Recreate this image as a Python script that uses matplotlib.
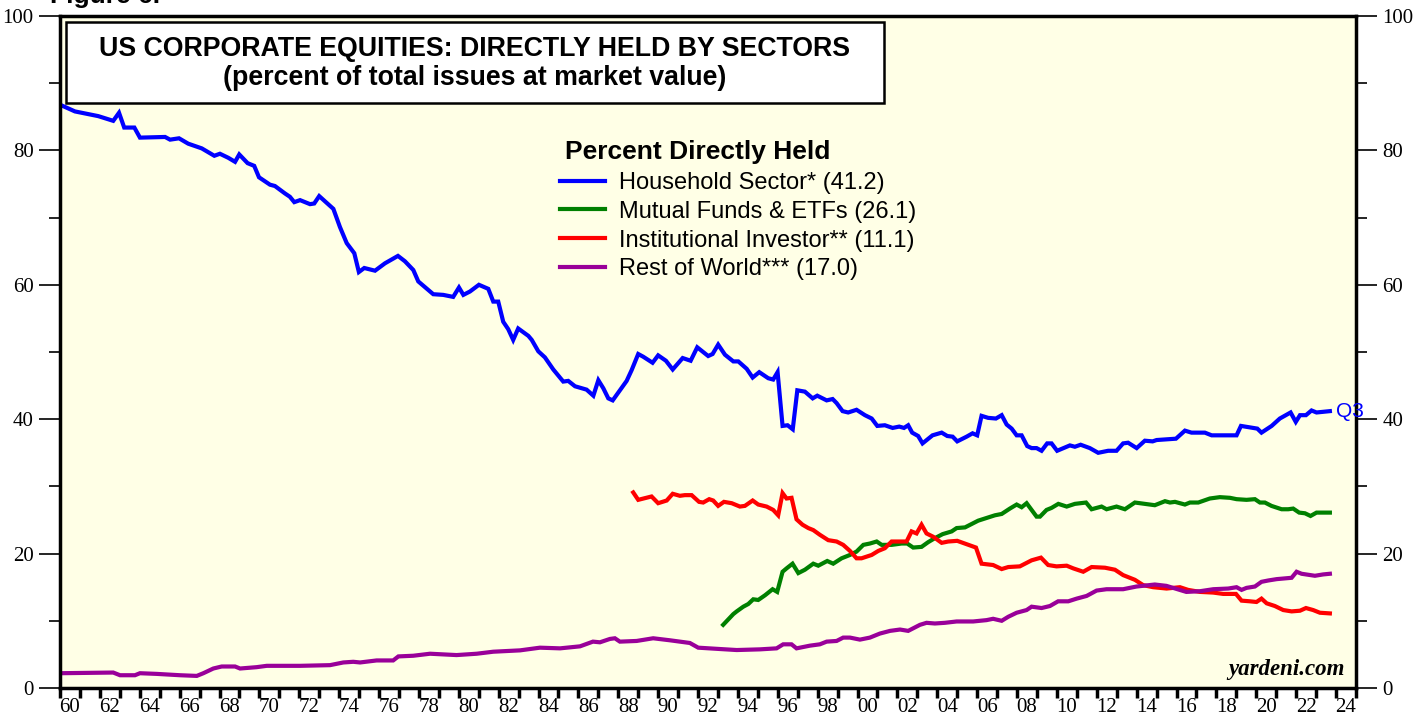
import matplotlib
matplotlib.use('Agg')
import matplotlib.pyplot as plt
from matplotlib.patches import Rectangle
import numpy as np

# ---- data (percent of total issues at market value) ----
house_x = [1959.50, 1960.25, 1961.42, 1962.17, 1962.46, 1962.72, 1963.23, 1963.51, 1964.77, 1965.02,
           1965.47, 1965.93, 1966.61, 1967.24, 1967.52, 1967.94, 1968.28, 1968.49, 1968.91, 1969.24,
           1969.48, 1970.03, 1970.28, 1970.78, 1971.03, 1971.25, 1971.54, 1972.04, 1972.25, 1972.50,
           1973.21, 1973.54, 1973.88, 1974.26, 1974.49, 1974.76, 1975.30, 1975.80, 1976.15, 1976.45,
           1976.80, 1977.22, 1977.47, 1978.22, 1978.72, 1979.22, 1979.51, 1979.73, 1980.06, 1980.51,
           1980.98, 1981.23, 1981.48, 1981.73, 1981.98, 1982.23, 1982.48, 1982.99, 1983.16, 1983.49,
           1983.82, 1984.24, 1984.74, 1984.99, 1985.33, 1985.91, 1986.25, 1986.50, 1986.75, 1987.00,
           1987.22, 1987.58, 1987.92, 1988.17, 1988.50, 1988.75, 1989.22, 1989.50, 1989.89, 1990.23,
           1990.73, 1991.13, 1991.46, 1992.01, 1992.23, 1992.51, 1992.85, 1993.27, 1993.52, 1993.94,
           1994.24, 1994.57, 1995.02, 1995.27, 1995.49, 1995.74, 1995.99, 1996.25, 1996.48, 1996.86,
           1997.25, 1997.48, 1997.95, 1998.25, 1998.45, 1998.75, 1999.03, 1999.45, 1999.87, 2000.21,
           2000.49, 2000.87, 2001.26, 2001.59, 2001.83, 2002.04, 2002.24, 2002.54, 2002.76, 2003.26,
           2003.72, 2004.00, 2004.27, 2004.50, 2004.97, 2005.27, 2005.50, 2005.72, 2006.05, 2006.44,
           2006.73, 2006.98, 2007.23, 2007.48, 2007.73, 2008.01, 2008.23, 2008.48, 2008.73, 2009.01,
           2009.23, 2009.51, 2010.15, 2010.40, 2010.69, 2011.15, 2011.57, 2012.07, 2012.49, 2012.82,
           2013.07, 2013.50, 2013.91, 2014.30, 2014.50, 2015.47, 2015.92, 2016.25, 2016.92, 2017.26,
           2017.67, 2018.51, 2018.73, 2019.34, 2019.55, 2019.76, 2020.27, 2020.68, 2021.22, 2021.48,
           2021.69, 2021.99, 2022.27, 2022.52, 2023.19]
house_y = [86.8, 85.8, 85.1, 84.4, 85.6, 83.4, 83.4, 81.9, 82.0, 81.6,
           81.8, 81.0, 80.3, 79.2, 79.5, 78.9, 78.3, 79.4, 78.1, 77.7,
           76.0, 74.9, 74.7, 73.6, 73.1, 72.3, 72.6, 72.0, 72.1, 73.2,
           71.3, 68.6, 66.2, 64.7, 61.9, 62.5, 62.1, 63.2, 63.8, 64.3,
           63.5, 62.2, 60.5, 58.6, 58.5, 58.2, 59.6, 58.5, 59.0, 60.0,
           59.4, 57.5, 57.5, 54.5, 53.4, 51.8, 53.5, 52.4, 51.8, 50.1,
           49.2, 47.4, 45.6, 45.7, 44.9, 44.4, 43.5, 45.8, 44.6, 43.1,
           42.8, 44.3, 45.7, 47.3, 49.7, 49.3, 48.4, 49.5, 48.7, 47.4,
           49.1, 48.7, 50.7, 49.4, 49.7, 51.1, 49.6, 48.6, 48.6, 47.5,
           46.2, 47.0, 46.1, 45.9, 47.0, 39.0, 39.1, 38.5, 44.3, 44.1,
           43.1, 43.5, 42.8, 43.0, 42.4, 41.2, 41.0, 41.4, 40.6, 40.1,
           39.0, 39.1, 38.7, 38.9, 38.7, 39.1, 38.0, 37.5, 36.4, 37.6,
           38.0, 37.5, 37.4, 36.7, 37.4, 37.9, 37.6, 40.5, 40.2, 40.1,
           40.6, 39.2, 38.6, 37.6, 37.6, 36.0, 35.7, 35.7, 35.3, 36.4,
           36.4, 35.3, 36.1, 35.9, 36.2, 35.7, 35.0, 35.3, 35.3, 36.4,
           36.5, 35.7, 36.8, 36.7, 36.9, 37.1, 38.3, 38.0, 38.0, 37.6,
           37.6, 37.6, 39.0, 38.7, 38.6, 38.0, 39.0, 40.1, 41.0, 39.6,
           40.6, 40.6, 41.3, 41.0, 41.2]

funds_x = [1992.76, 1993.27, 1993.44, 1993.77, 1994.02, 1994.27, 1994.52, 1994.86, 1995.24, 1995.47,
           1995.74, 1995.94, 1996.24, 1996.53, 1996.86, 1997.28, 1997.53, 1997.98, 1998.28, 1998.70,
           1999.12, 1999.45, 1999.79, 2000.12, 2000.46, 2000.71, 2001.21, 2001.71, 2001.99, 2002.29,
           2002.71, 2003.04, 2003.38, 2003.77, 2004.22, 2004.47, 2004.89, 2005.22, 2005.55, 2005.97,
           2006.39, 2006.73, 2007.14, 2007.48, 2007.73, 2007.98, 2008.23, 2008.48, 2008.65, 2008.98,
           2009.23, 2009.57, 2009.99, 2010.40, 2010.96, 2011.24, 2011.74, 2011.99, 2012.49, 2012.91,
           2013.41, 2013.66, 2014.41, 2014.92, 2015.17, 2015.42, 2015.92, 2016.17, 2016.59, 2017.17,
           2017.67, 2018.18, 2018.51, 2019.01, 2019.43, 2019.68, 2019.93, 2020.26, 2020.77, 2021.10,
           2021.35, 2021.65, 2021.94, 2022.22, 2022.52, 2022.85, 2023.19]
funds_y = [9.4, 11.0, 11.4, 12.1, 12.5, 13.2, 13.1, 13.8, 14.7, 14.3,
           17.3, 17.8, 18.5, 17.1, 17.6, 18.5, 18.2, 18.9, 18.5, 19.3,
           19.8, 20.3, 21.3, 21.5, 21.8, 21.3, 21.3, 21.5, 21.5, 20.9,
           21.0, 21.7, 22.3, 22.9, 23.3, 23.8, 23.9, 24.4, 24.9, 25.3,
           25.7, 25.9, 26.7, 27.3, 26.9, 27.5, 26.5, 25.5, 25.5, 26.5,
           26.8, 27.4, 27.0, 27.4, 27.6, 26.6, 27.0, 26.6, 27.0, 26.6,
           27.6, 27.5, 27.2, 27.8, 27.6, 27.7, 27.3, 27.6, 27.6, 28.2,
           28.4, 28.3, 28.1, 28.0, 28.1, 27.6, 27.6, 27.1, 26.6, 26.6,
           26.7, 26.1, 26.0, 25.6, 26.1, 26.1, 26.1]

inst_x = [1988.25, 1988.50, 1989.17, 1989.50, 1989.93, 1990.23, 1990.59, 1990.84, 1991.18, 1991.55,
          1991.76, 1992.06, 1992.26, 1992.51, 1992.80, 1993.19, 1993.60, 1993.85, 1994.24, 1994.52,
          1994.94, 1995.27, 1995.52, 1995.74, 1995.94, 1996.19, 1996.44, 1996.74, 1997.03, 1997.28,
          1997.61, 1998.03, 1998.45, 1998.78, 1999.12, 1999.45, 1999.70, 2000.21, 2000.54, 2000.87,
          2001.21, 2001.54, 2001.96, 2002.21, 2002.46, 2002.71, 2002.96, 2003.30, 2003.72, 2004.05,
          2004.50, 2004.97, 2005.44, 2005.72, 2006.30, 2006.73, 2007.06, 2007.64, 2008.23, 2008.70,
          2009.06, 2009.48, 2009.99, 2010.32, 2010.82, 2011.24, 2011.91, 2012.41, 2012.82, 2013.41,
          2013.83, 2014.33, 2015.00, 2015.67, 2016.08, 2016.67, 2017.34, 2017.84, 2018.48, 2018.76,
          2019.18, 2019.51, 2019.76, 2020.02, 2020.43, 2020.85, 2021.27, 2021.69, 2021.99, 2022.35,
          2022.69, 2023.19]
inst_y = [29.1, 28.0, 28.5, 27.5, 27.9, 28.9, 28.6, 28.7, 28.7, 27.7,
          27.6, 28.1, 27.9, 27.1, 27.7, 27.5, 27.0, 27.1, 27.9, 27.3,
          27.0, 26.5, 25.7, 29.0, 28.2, 28.3, 25.1, 24.3, 23.8, 23.5,
          22.8, 22.0, 21.8, 21.3, 20.4, 19.3, 19.3, 19.8, 20.4, 20.8,
          21.8, 21.8, 21.8, 23.3, 23.0, 24.3, 23.0, 22.5, 21.6, 21.8,
          21.9, 21.4, 20.9, 18.5, 18.3, 17.7, 18.0, 18.1, 19.0, 19.4,
          18.3, 18.1, 18.2, 17.8, 17.3, 18.0, 17.9, 17.6, 16.8, 16.1,
          15.3, 15.0, 14.8, 15.0, 14.6, 14.3, 14.2, 14.0, 14.0, 13.0,
          12.9, 12.8, 13.3, 12.6, 12.2, 11.6, 11.4, 11.5, 11.9, 11.6,
          11.2, 11.1]

row_x = [1959.50, 1962.17, 1962.51, 1963.26, 1963.51, 1964.35, 1965.52, 1966.36, 1966.69, 1967.19,
         1967.61, 1968.28, 1968.53, 1969.36, 1969.87, 1971.54, 1973.04, 1973.71, 1974.21, 1974.55,
         1975.38, 1976.21, 1976.47, 1977.22, 1978.06, 1979.39, 1980.40, 1981.23, 1982.57, 1983.57,
         1984.58, 1985.58, 1986.23, 1986.58, 1987.08, 1987.33, 1987.58, 1988.42, 1989.25, 1990.09,
         1990.59, 1991.09, 1991.51, 1992.60, 1993.44, 1994.60, 1995.44, 1995.77, 1996.19, 1996.44,
         1997.11, 1997.61, 1997.95, 1998.45, 1998.78, 1999.12, 1999.62, 2000.12, 2000.62, 2001.13,
         2001.63, 2002.04, 2002.63, 2002.96, 2003.38, 2003.88, 2004.47, 2005.30, 2005.97, 2006.30,
         2006.73, 2007.06, 2007.48, 2007.98, 2008.23, 2008.73, 2009.15, 2009.56, 2010.07, 2010.49,
         2010.99, 2011.49, 2011.99, 2012.82, 2013.49, 2014.41, 2014.99, 2015.99, 2016.67, 2017.34,
         2018.09, 2018.51, 2018.76, 2019.01, 2019.43, 2019.76, 2020.10, 2020.52, 2021.27, 2021.52,
         2021.77, 2022.44, 2022.85, 2023.19]
row_y = [2.2, 2.3, 1.9, 1.9, 2.2, 2.1, 1.9, 1.8, 2.2, 2.9,
         3.2, 3.2, 2.9, 3.1, 3.3, 3.3, 3.4, 3.8, 3.9, 3.8,
         4.1, 4.1, 4.7, 4.8, 5.1, 4.9, 5.1, 5.4, 5.6, 6.0,
         5.9, 6.2, 6.9, 6.8, 7.3, 7.4, 6.9, 7.0, 7.4, 7.1,
         6.9, 6.7, 6.0, 5.8, 5.65, 5.75, 5.9, 6.5, 6.5, 5.9,
         6.3, 6.5, 6.9, 7.0, 7.5, 7.5, 7.2, 7.5, 8.1, 8.5,
         8.7, 8.5, 9.4, 9.7, 9.6, 9.7, 9.9, 9.9, 10.1, 10.3,
         10.0, 10.6, 11.2, 11.6, 12.1, 11.9, 12.2, 12.9, 12.9, 13.3,
         13.7, 14.5, 14.7, 14.7, 15.1, 15.4, 15.2, 14.3, 14.4, 14.7,
         14.8, 15.0, 14.6, 14.9, 15.1, 15.8, 16.0, 16.2, 16.4, 17.3,
         17.0, 16.7, 16.9, 17.0]

labels = ['Household Sector* (41.2)', 'Mutual Funds & ETFs (26.1)',
          'Institutional Investor** (11.1)', 'Rest of World*** (17.0)']
colors = ['#0000FF', '#008000', '#FF0000', '#990099']
year_labels = list(range(1960, 2025, 2))

sans = 'Liberation Sans'
serif = 'Liberation Serif'

fig = plt.figure(figsize=(14.24, 7.19), dpi=100)
ax = fig.add_axes([60 / 1424, 1 - 688 / 719, 1296 / 1424, 672 / 719])
ax.set_facecolor('#FFFFE6')

series = [(house_x, house_y), (funds_x, funds_y), (inst_x, inst_y), (row_x, row_y)]
for (xs, ys), c, lab in zip(series, colors, labels):
    ax.plot(xs, ys, color=c, lw=3, label=lab, solid_joinstyle='miter')

ax.set_xlim(1959.5, 2024.5)
ax.set_ylim(0, 100)

# x: ticks at year boundaries, labels centred on each even year
ax.set_xticks(np.arange(1959.5, 2025, 1.0))
ax.set_xticklabels([])
ax.set_xticks(year_labels, minor=True)
ax.set_xticklabels(['%02d' % (y % 100) for y in year_labels], minor=True,
                   fontfamily=serif, fontsize=15)
ax.tick_params(axis='x', which='major', direction='out', length=7, width=2.5)
ax.tick_params(axis='x', which='minor', length=0, pad=7)

ax.set_yticks(np.arange(0, 101, 20))
ax.set_yticks(np.arange(10, 100, 20), minor=True)
ax.set_yticklabels([str(v) for v in range(0, 101, 20)], fontfamily=serif, fontsize=15)
ax.tick_params(axis='y', which='both', left=True, right=True, labelleft=True, labelright=True,
               direction='out', width=1.2)
ax.tick_params(axis='y', which='major', length=15, pad=4)
ax.tick_params(axis='y', which='minor', length=8)

for s in ax.spines.values():
    s.set_linewidth(2.5)
    s.set_color('black')

# title box
ax.add_patch(Rectangle((6 / 1296, (688 - 103) / 672), 818 / 1296, 81 / 672,
                       transform=ax.transAxes, facecolor='white', edgecolor='black',
                       lw=1.8, zorder=5))
ax.text(0.3202, 0.951, 'US CORPORATE EQUITIES: DIRECTLY HELD BY SECTORS',
        transform=ax.transAxes, ha='center', va='center', fontsize=19.3,
        fontweight='bold', fontfamily=sans, zorder=6)
ax.text(0.3202, 0.908, '(percent of total issues at market value)',
        transform=ax.transAxes, ha='center', va='center', fontsize=19.3,
        fontweight='bold', fontfamily=sans, zorder=6)

# legend: heading as its own text, entries below
ax.text(0.3897, 0.7976, 'Percent Directly Held', transform=ax.transAxes, ha='left',
        va='center', fontsize=19, fontweight='bold', fontfamily=sans)
leg = ax.legend(loc='upper left', bbox_to_anchor=(0.386, 0.768), frameon=False,
                prop={'family': sans, 'size': 17}, handlelength=1.9, handletextpad=0.6,
                labelspacing=0.29, borderpad=0, borderaxespad=0)

ax.text(house_x[-1] + 0.3, house_y[-1], 'Q3', color='#0000FF', fontsize=15,
        fontfamily=sans, va='center', ha='left', clip_on=False)

ax.text(0.9915, 0.012, 'yardeni.com', transform=ax.transAxes, ha='right', va='bottom',
        fontsize=16.5, fontweight='bold', fontstyle='italic', fontfamily=serif)

fig.text(50 / 1424, 1 - 3 / 719, 'Figure 6.', fontsize=19, fontweight='bold',
         fontfamily=sans, ha='left', va='baseline')

fig.savefig('out.png', dpi=100)
